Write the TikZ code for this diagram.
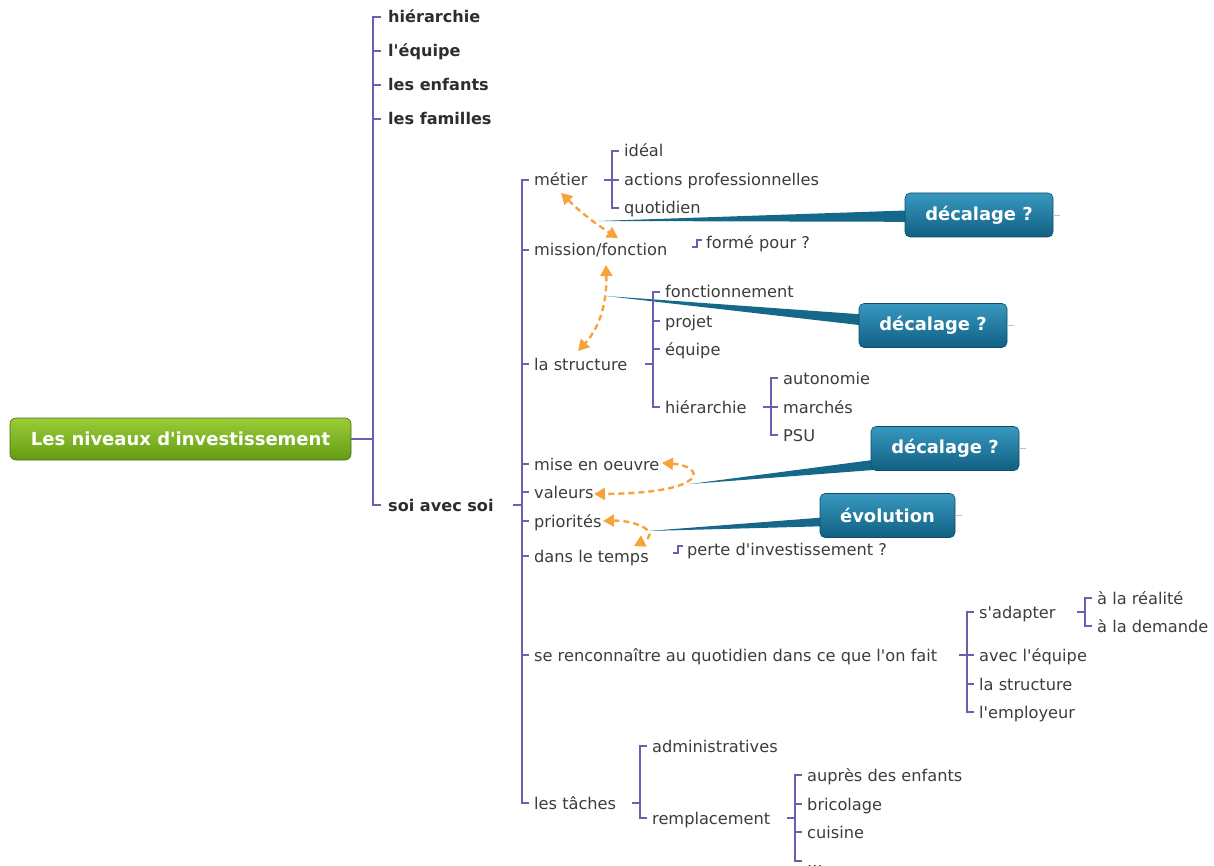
\documentclass[tikz,border=0pt]{standalone}
\usepackage{fontspec}
\setmainfont{DejaVu Sans}
\usetikzlibrary{arrows.meta,positioning,backgrounds}
\definecolor{brkblue}{RGB}{104,96,176}
\definecolor{txtgray}{RGB}{60,60,60}
\definecolor{txtdark}{RGB}{45,45,45}
\definecolor{linkorange}{RGB}{247,162,58}
\definecolor{tealtop}{RGB}{56,152,192}
\definecolor{tealbot}{RGB}{16,96,130}
\definecolor{tealtail}{RGB}{22,104,138}
\definecolor{greentop}{RGB}{156,204,56}
\definecolor{greenbot}{RGB}{98,156,20}
\def\q{\textquotesingle}
\tikzstyle{lbl} = [anchor=west, inner sep=0pt, text=txtgray, text height=13pt, text depth=1pt, font=\fontsize{16.2}{19}\selectfont]
\tikzstyle{lblb} = [lbl, text=txtdark, font=\bfseries\fontsize{16.1}{19}\selectfont]
\tikzstyle{brk} = [draw=brkblue, line width=1.1pt]
\tikzstyle{link} = [draw=linkorange, line width=2.4pt, dash pattern=on 6pt off 4pt, {Triangle[length=11pt,width=12pt]}-{Triangle[length=11pt,width=12pt]}]
\tikzstyle{callout} = [rounded corners=5pt, top color=tealtop, bottom color=tealbot, draw=tealbot!80!black, line width=0.6pt, text=white, minimum height=44pt, font=\bfseries\fontsize{17.9}{20}\selectfont]
\tikzstyle{tail} = [fill=tealtail]

\begin{document}
\begin{tikzpicture}[x=1pt,y=-1pt]
\useasboundingbox (0,0) rectangle (1214,866);
\node (root) at (180.5,439) [rounded corners=6pt, top color=greentop, bottom color=greenbot, draw=greenbot!70!black, line width=0.6pt, minimum width=341pt, minimum height=42pt, text=white, font=\bfseries\fontsize{18}{20}\selectfont] {Les niveaux d\q investissement};
% level 1
\node[lblb] (h1) at (388,17) {hiérarchie};
\node[lblb] (h2) at (388,51) {l\q équipe};
\node[lblb] (h3) at (388,85) {les enfants};
\node[lblb] (h4) at (388,119) {les familles};
\node[lblb] (soi) at (388,505) {soi avec soi};
\draw[brk] (root.east) -- ([xshift=-15pt]h1.west |- root.east);
\draw[brk] ([xshift=-7pt]h1.west) -| ([xshift=-15pt]soi.west) -- ([xshift=-7pt]soi.west);
\draw[brk] ([xshift=-15pt]h2.west) -- ([xshift=-7pt]h2.west);
\draw[brk] ([xshift=-15pt]h3.west) -- ([xshift=-7pt]h3.west);
\draw[brk] ([xshift=-15pt]h4.west) -- ([xshift=-7pt]h4.west);
% soi avec soi
\node[lbl] (metier) at (534,180) {métier};
\node[lbl] (mission) at (534,250) {mission/fonction};
\node[lbl] (struct) at (534,364) {la structure};
\node[lbl] (mise) at (534,464) {mise en oeuvre};
\node[lbl] (valeurs) at (534,492) {valeurs};
\node[lbl] (prio) at (534,521) {priorités};
\node[lbl] (temps) at (534,556) {dans le temps};
\node[lbl] (reconn) at (534,655) {se renconnaître au quotidien dans ce que l\q on fait};
\node[lbl] (taches) at (534,803) {les tâches};
\draw[brk] ([xshift=-21pt]metier.west |- soi.east) -- ([xshift=-12pt]metier.west |- soi.east);
\draw[brk] ([xshift=-5pt]metier.west) -| ([xshift=-12pt]taches.west) -- ([xshift=-5pt]taches.west);
\foreach \n in {mission,struct,mise,valeurs,prio,temps,reconn}
  \draw[brk] ([xshift=-12pt]\n.west) -- ([xshift=-5pt]\n.west);
% metier
\node[lbl] (ideal) at (624,151) {idéal};
\node[lbl] (actions) at (624,180) {actions professionnelles};
\node[lbl] (quotid) at (624,208) {quotidien};
\draw[brk] ([xshift=-20pt]ideal.west |- metier.east) -- ([xshift=-5pt]actions.west);
\draw[brk] ([xshift=-5pt]ideal.west) -| ([xshift=-12pt]quotid.west) -- ([xshift=-5pt]quotid.west);
% mission
\node[lbl] (forme) at (706,243) {formé pour ?};
\draw[brk] ([xshift=-14pt,yshift=-4pt]forme.west) -- ++(5,0) -- ++(0,-7) -- ++(5,0);
% la structure
\node[lbl] (fonct) at (665,292) {fonctionnement};
\node[lbl] (projet) at (665,321) {projet};
\node[lbl] (equipe) at (665,349) {équipe};
\node[lbl] (hier) at (665,407) {hiérarchie};
\draw[brk] ([xshift=-20pt]fonct.west |- struct.east) -- ([xshift=-12pt]fonct.west |- struct.east);
\draw[brk] ([xshift=-5pt]fonct.west) -| ([xshift=-12pt]hier.west) -- ([xshift=-5pt]hier.west);
\draw[brk] ([xshift=-12pt]projet.west) -- ([xshift=-5pt]projet.west);
\draw[brk] ([xshift=-12pt]equipe.west) -- ([xshift=-5pt]equipe.west);
\node[lbl] (auto) at (783,378) {autonomie};
\node[lbl] (marches) at (783,407) {marchés};
\node[lbl] (psu) at (783,435) {PSU};
\draw[brk] ([xshift=-20pt]marches.west) -- ([xshift=-5pt]marches.west);
\draw[brk] ([xshift=-5pt]auto.west) -| ([xshift=-12pt]psu.west) -- ([xshift=-5pt]psu.west);
% dans le temps
\node[lbl] (perte) at (687,549) {perte d\q investissement ?};
\draw[brk] ([xshift=-14pt,yshift=-4pt]perte.west) -- ++(5,0) -- ++(0,-7) -- ++(5,0);
% se reconnaitre
\node[lbl] (adapter) at (979,612) {s\q adapter};
\node[lbl] (avecequipe) at (979,655) {avec l\q équipe};
\node[lbl] (lastruct) at (979,684) {la structure};
\node[lbl] (employeur) at (979,712) {l\q employeur};
\draw[brk] ([xshift=-20pt]avecequipe.west) -- ([xshift=-5pt]avecequipe.west);
\draw[brk] ([xshift=-5pt]adapter.west) -| ([xshift=-12pt]employeur.west) -- ([xshift=-5pt]employeur.west);
\draw[brk] ([xshift=-12pt]lastruct.west) -- ([xshift=-5pt]lastruct.west);
\node[lbl] (realite) at (1097,598) {à la réalité};
\node[lbl] (demande) at (1097,626) {à la demande};
\draw[brk] ([xshift=-20pt]realite.west |- adapter.east) -- ([xshift=-12pt]realite.west |- adapter.east);
\draw[brk] ([xshift=-5pt]realite.west) -| ([xshift=-12pt]demande.west) -- ([xshift=-5pt]demande.west);
% les taches
\node[lbl] (admin) at (652,746) {administratives};
\node[lbl] (rempl) at (652,818) {remplacement};
\draw[brk] ([xshift=-20pt]admin.west |- taches.east) -- ([xshift=-12pt]admin.west |- taches.east);
\draw[brk] ([xshift=-5pt]admin.west) -| ([xshift=-12pt]rempl.west) -- ([xshift=-5pt]rempl.west);
\node[lbl] (aupres) at (807,775) {auprès des enfants};
\node[lbl] (brico) at (807,804) {bricolage};
\node[lbl] (cuisine) at (807,832) {cuisine};
\node[lbl] (dots) at (807,861) {...};
\draw[brk] ([xshift=-20pt]aupres.west |- rempl.east) -- ([xshift=-12pt]aupres.west |- rempl.east);
\draw[brk] ([xshift=-5pt]aupres.west) -| ([xshift=-12pt]dots.west) -- ([xshift=-5pt]dots.west);
\draw[brk] ([xshift=-12pt]brico.west) -- ([xshift=-5pt]brico.west);
\draw[brk] ([xshift=-12pt]cuisine.west) -- ([xshift=-5pt]cuisine.west);
% callouts
\node[callout, minimum width=148pt] (dec1) at (979,215) {décalage ?};
\node[callout, minimum width=148pt] (dec2) at (933,325.5) {décalage ?};
\node[callout, minimum width=148pt] (dec3) at (945,448.5) {décalage ?};
\node[callout, minimum width=135pt] (evol) at (887.5,515.5) {évolution};
\foreach \n in {dec1,dec2,dec3,evol}
  \draw[gray!50, line width=0.6pt] (\n.east) -- ++(7,0);
\coordinate (m1) at (598,221);
\coordinate (m2) at (606,296);
\coordinate (m3) at (690,484);
\coordinate (m4) at (648,531);
\begin{scope}[on background layer]
\fill[tail] (m1) -- ([yshift=7pt]dec1.center) -- ([yshift=-7pt]dec1.center) -- cycle;
\fill[tail] (m2) -- ([yshift=6pt]dec2.center) -- ([yshift=-8pt]dec2.center) -- cycle;
\fill[tail] (m3) -- ([yshift=-2pt]dec3.center) -- ([yshift=-16pt]dec3.center) -- cycle;
\fill[tail] (m4) -- ([yshift=3pt]evol.center) -- ([yshift=-9pt]evol.center) -- cycle;
\end{scope}
% links
\coordinate (a1) at (561,193);
\coordinate (a2) at (618,238);
\coordinate (b1) at (606,265);
\coordinate (b2) at (578,351);
\coordinate (c1) at (662,463);
\coordinate (c2) at (594,494);
\coordinate (d1) at (603,521);
\coordinate (d2) at (634,546);
\draw[link] (a1) to[bend right=6] (a2);
\draw[link] (b1) .. controls (607,300) and (601,326) .. (b2);
\draw[link] (c1) .. controls (705,466) and (712,493) .. (c2);
\draw[link] (d1) .. controls (635,520) and (662,532) .. (d2);
\end{tikzpicture}
\end{document}
